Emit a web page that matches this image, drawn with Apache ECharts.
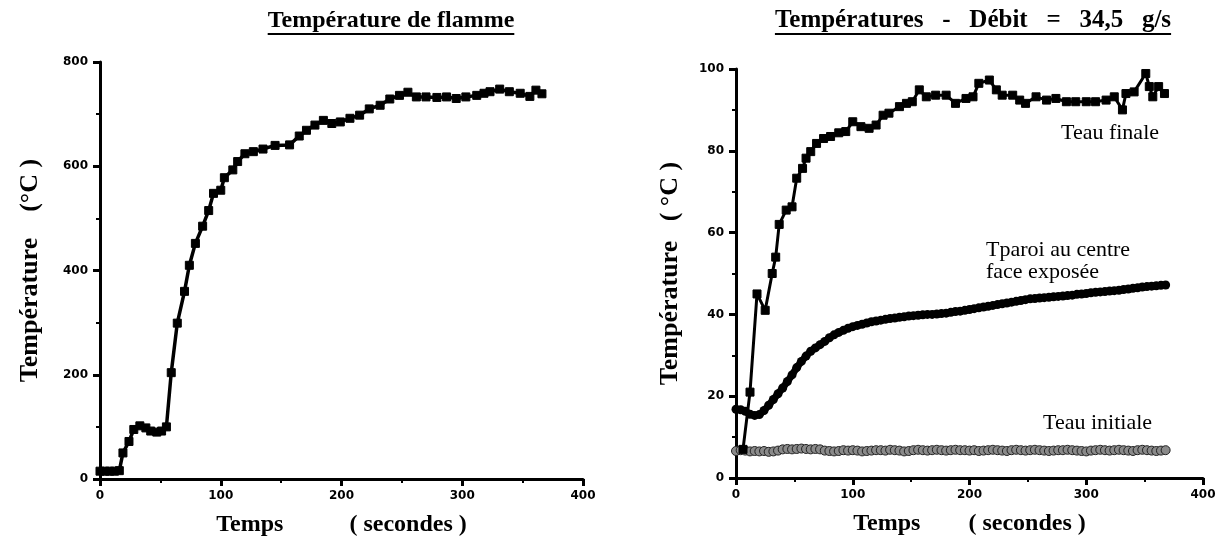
<!DOCTYPE html>
<html><head><meta charset="utf-8">
<script src="https://cdn.jsdelivr.net/npm/echarts@6/dist/echarts.min.js"></script>
<style>html,body{margin:0;padding:0;background:#fff}#c{width:1225px;height:551px}</style>
</head><body><div id="c"></div>
<script>
// ---- data ----
const flameTime = [0,4,8,12,16,19,24,28,33,38,42,47,51,55,59,64,70,74,79,85,90,94,100,103,110,114,120,127,135,145,157,165,171,178,185,192,199,207,215,223,232,240,248,255,262,270,279,287,295,303,312,318,323,331,339,348,356,361,366];
const flameTemp = [15,15,15,15,16,50,72,95,102,98,92,90,92,100,204,299,360,410,452,485,515,548,554,578,593,609,624,628,633,640,641,658,669,679,688,682,685,692,698,710,717,729,736,742,733,733,732,733,730,733,736,740,743,748,743,740,734,746,739];

const finaleTime = [6,12,18,25,31,34,37,43,48,52,57,60,64,69,75,81,88,94,100,107,114,120,126,131,140,146,151,157,163,171,180,188,197,203,208,217,223,228,237,243,248,257,266,274,283,291,300,308,317,324,331,334,341,351,354,357,362,367];
const finaleTemp = [7,21,45,41,50,54,62,65.5,66.3,73.3,75.7,78.2,79.8,81.8,83,83.5,84.4,84.7,87.1,85.9,85.5,86.3,88.7,89.2,90.8,91.6,92,94.9,93.2,93.6,93.6,91.6,92.8,93.2,96.5,97.3,94.9,93.6,93.6,92.4,91.6,93.2,92.4,92.8,92,92,92,92,92.4,93.2,90,94,94.4,98.9,95.7,93.2,95.7,94];

const sampleTime = [0,4,8,12,16,20,24,28,32,36,
  40,44,48,52,56,60,64,68,72,76,
  80,84,88,92,96,100,104,108,112,116,
  120,124,128,132,136,140,144,148,152,156,
  160,164,168,172,176,180,184,188,192,196,
  200,204,208,212,216,220,224,228,232,236,
  240,244,248,252,256,260,264,268,272,276,
  280,284,288,292,296,300,304,308,312,316,
  320,324,328,332,336,340,344,348,352,356,
  360,364,368];
const paroiTemp = [16.8,16.7,16.3,15.6,15.3,15.5,16.5,17.8,19.2,20.6,
  22,23.6,25.2,27,28.5,29.8,31,31.8,32.6,33.4,
  34.3,35,35.6,36.1,36.6,37,37.3,37.6,37.9,38.2,
  38.4,38.6,38.8,39,39.1,39.3,39.4,39.6,39.7,39.8,
  39.9,40,40,40.1,40.2,40.3,40.5,40.7,40.8,41,
  41.2,41.4,41.6,41.8,42,42.2,42.4,42.6,42.8,43,
  43.2,43.4,43.6,43.8,43.9,44,44.1,44.2,44.3,44.4,
  44.5,44.6,44.7,44.9,45,45.1,45.3,45.4,45.5,45.6,
  45.7,45.8,45.9,46.1,46.2,46.4,46.5,46.7,46.8,46.9,
  47,47.1,47.2];
const initTemp = [6.6,6.8,6.7,6.5,6.6,6.5,6.6,6.4,6.5,6.7,
  7.0,7.1,7.0,7.1,7.2,7.1,7.0,7.1,7.0,6.7,
  6.6,6.5,6.6,6.8,6.7,6.8,6.7,6.5,6.6,6.7,
  6.8,6.8,6.7,6.9,6.8,6.7,6.5,6.6,6.8,6.9,
  6.8,6.7,6.8,6.9,6.8,6.7,6.8,6.9,6.8,6.8,
  6.7,6.8,6.6,6.7,6.8,6.9,6.8,6.7,6.6,6.8,
  6.9,6.8,6.7,6.8,6.9,6.8,6.7,6.6,6.7,6.8,
  6.8,6.9,6.8,6.7,6.6,6.5,6.7,6.8,6.9,6.8,
  6.7,6.8,6.9,6.8,6.7,6.6,6.8,6.9,6.8,6.7,
  6.6,6.7,6.8];

const titleLeft = 'Température de flamme';
const titleRight = 'Températures   -   Débit   =   34,5   g/s';
const yNameLeft = 'Température    (°C )';
const yNameRight = 'Température   ( °C )';
const xNameLeft = 'Temps           ( secondes )';
const xNameRight = 'Temps        ( secondes )';
const seriesLabels = ['Teau finale', 'Tparoi au centre', 'face exposée', 'Teau initiale'];

// ---- helpers ----
const zip = (a, b) => a.map((v, i) => [v, b[i]]);
const serif = "'Liberation Serif', 'Times New Roman', serif";
const sans = "'DejaVu Sans', sans-serif";
const titleFont1 = 'bold 24px ' + serif;
const titleFont2 = 'bold 25px ' + serif;
const mctx = document.createElement('canvas').getContext('2d');
function textW(font, t) { mctx.font = font; return mctx.measureText(t).width; }

function xAx(gi, name) {
  return {
    type: 'value', gridIndex: gi, min: 0, max: 400, interval: 100,
    axisLine: { onZero: false, lineStyle: { color: '#000', width: 3 } },
    axisTick: { length: 7, lineStyle: { color: '#000', width: 3 } },
    minorTick: { show: true, splitNumber: 2, length: 4, lineStyle: { color: '#000', width: 2 } },
    splitLine: { show: false },
    axisLabel: { color: '#000', fontFamily: sans, fontWeight: 'bold', fontSize: 12, margin: 11 },
    name: name, nameLocation: 'middle', nameGap: 34,
    nameTextStyle: { color: '#000', fontFamily: serif, fontWeight: 'bold', fontSize: 24 }
  };
}
function yAx(gi, max, interval, name, gap) {
  return {
    type: 'value', gridIndex: gi, min: 0, max: max, interval: interval,
    axisLine: { show: true, onZero: false, lineStyle: { color: '#000', width: 3 } },
    axisTick: { show: true, length: 7, lineStyle: { color: '#000', width: 3 } },
    minorTick: { show: true, splitNumber: 2, length: 4, lineStyle: { color: '#000', width: 2 } },
    splitLine: { show: false },
    axisLabel: { color: '#000', fontFamily: sans, fontWeight: 'bold', fontSize: 12, margin: 12 },
    name: name, nameLocation: 'middle', nameGap: gap,
    nameTextStyle: { color: '#000', fontFamily: serif, fontWeight: 'bold', fontSize: 26 }
  };
}

const t1x = 391, t2x = 973, ty = 21;
const w1 = textW(titleFont1, titleLeft), w2 = textW(titleFont2, titleRight);
const lblFont = '22px ' + serif;

const chart = echarts.init(document.getElementById('c'), null, { renderer: 'canvas' });
chart.setOption({
  backgroundColor: '#fff',
  animation: false,
  grid: [
    { left: 100, right: 642, top: 62, bottom: 72 },
    { left: 736, right: 22, top: 69, bottom: 73 }
  ],
  xAxis: [xAx(0, xNameLeft), xAx(1, xNameRight)],
  yAxis: [yAx(0, 800, 200, yNameLeft, 57), yAx(1, 100, 20, yNameRight, 53)],
  series: [
    {
      type: 'line', xAxisIndex: 0, yAxisIndex: 0, data: zip(flameTime, flameTemp),
      symbol: 'rect', symbolSize: 8, showAllSymbol: true,
      lineStyle: { color: '#000', width: 3.5 },
      itemStyle: { color: '#000', borderColor: '#000', borderWidth: 1 }
    },
    {
      type: 'line', xAxisIndex: 1, yAxisIndex: 1, data: zip(sampleTime, initTemp),
      symbol: 'circle', symbolSize: 9, showAllSymbol: true,
      lineStyle: { color: '#444', width: 1 },
      itemStyle: { color: '#8a8a8a', borderColor: '#222', borderWidth: 1 }
    },
    {
      type: 'line', xAxisIndex: 1, yAxisIndex: 1, data: zip(sampleTime, paroiTemp),
      symbol: 'circle', symbolSize: 9, showAllSymbol: true,
      lineStyle: { color: '#000', width: 7 },
      itemStyle: { color: '#000' }
    },
    {
      type: 'line', xAxisIndex: 1, yAxisIndex: 1, data: zip(finaleTime, finaleTemp),
      symbol: 'rect', symbolSize: 8, showAllSymbol: true,
      lineStyle: { color: '#000', width: 3 },
      itemStyle: { color: '#000', borderColor: '#000', borderWidth: 1 }
    }
  ],
  graphic: [
    { type: 'text', x: t1x, y: ty, style: { text: titleLeft, font: titleFont1, fill: '#000', textAlign: 'center', textVerticalAlign: 'middle' } },
    { type: 'line', shape: { x1: t1x - w1 / 2, y1: ty + 13, x2: t1x + w1 / 2, y2: ty + 13 }, style: { stroke: '#000', lineWidth: 2 } },
    { type: 'text', x: t2x, y: ty, style: { text: titleRight, font: titleFont2, fill: '#000', textAlign: 'center', textVerticalAlign: 'middle' } },
    { type: 'line', shape: { x1: t2x - w2 / 2, y1: ty + 13, x2: t2x + w2 / 2, y2: ty + 13 }, style: { stroke: '#000', lineWidth: 2 } },
    { type: 'text', x: 1061, y: 133, style: { text: seriesLabels[0], font: lblFont, fill: '#000', textVerticalAlign: 'middle' } },
    { type: 'text', x: 986, y: 250, style: { text: seriesLabels[1], font: lblFont, fill: '#000', textVerticalAlign: 'middle' } },
    { type: 'text', x: 986, y: 272, style: { text: seriesLabels[2], font: lblFont, fill: '#000', textVerticalAlign: 'middle' } },
    { type: 'text', x: 1043, y: 423, style: { text: seriesLabels[3], font: lblFont, fill: '#000', textVerticalAlign: 'middle' } }
  ]
});
</script></body></html>
